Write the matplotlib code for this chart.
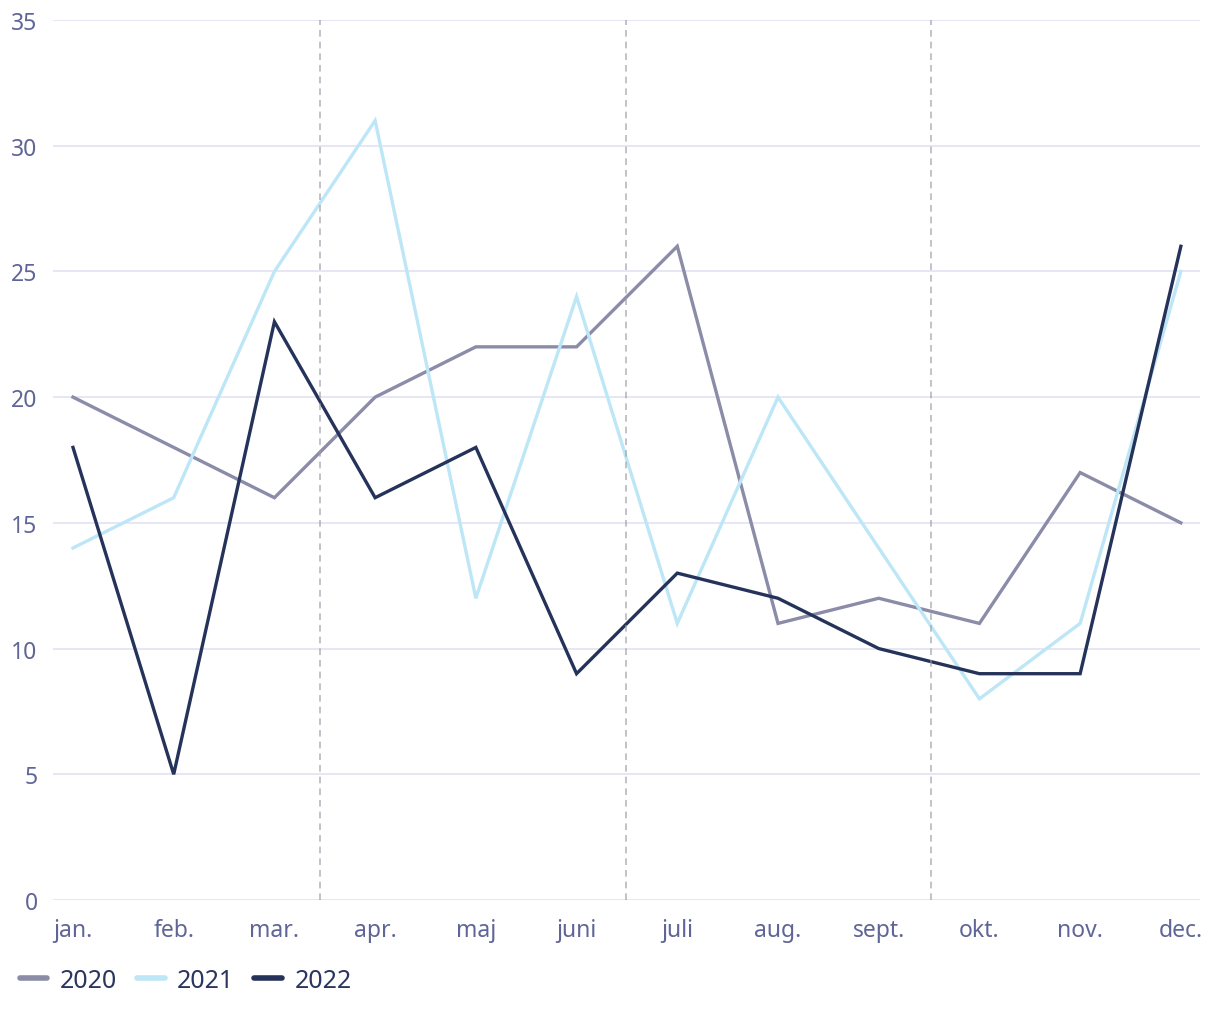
import matplotlib
matplotlib.use("Agg")
import matplotlib.pyplot as plt
from matplotlib.lines import Line2D

months = ["jan.", "feb.", "mar.", "apr.", "maj", "juni", "juli", "aug.", "sept.", "okt.", "nov.", "dec."]
v2020 = [20, 18, 16, 20, 22, 22, 26, 11, 12, 11, 17, 15]
v2021 = [14, 16, 25, 31, 12, 24, 11, 20, 14, 8, 11, 25]
v2022 = [18, 5, 23, 16, 18, 9, 13, 12, 10, 9, 9, 26]
series = [("2020", v2020, "#8a8ca8"), ("2021", v2021, "#bde6f6"), ("2022", v2022, "#25335a")]
quarter_marks = [2.45, 5.49, 8.52]

plt.rcParams['font.family'] = ['Noto Sans', 'DejaVu Sans']

fig = plt.figure(figsize=(12.2, 10.2), dpi=100)
ax = fig.add_axes([0.0434, 0.1167, 0.9402, 0.8627])

x = list(range(len(months)))
for name, vals, col in series:
    ax.plot(x, vals, color=col, lw=2.4, label=name, zorder=3, solid_joinstyle='miter')

for q in quarter_marks:
    ax.axvline(q, color="#9a9aa6", lw=1.2, ls=(0, (4, 3)), alpha=0.7, zorder=4)

ax.set_xlim(-0.199, 11.19)
ax.set_ylim(0, 35)
ax.set_yticks(range(0, 36, 5))
ax.set_xticks(x)
ax.set_xticklabels(months)
ax.grid(axis='y', color="#e2e2f2", lw=1.2, zorder=0)
ax.set_axisbelow(True)
for s in ax.spines.values():
    s.set_visible(False)
ax.tick_params(axis='both', length=0, labelsize=16.5, colors="#5f6596")
ax.tick_params(axis='x', pad=13)
ax.tick_params(axis='y', pad=11)

handles = [Line2D([0], [0], color=c, lw=4, solid_capstyle='round') for _, _, c in series]
leg = fig.legend(handles, [n for n, _, _ in series], loc='lower left', bbox_to_anchor=(0.004, 0.011),
                 ncol=3, frameon=False, fontsize=18, handlelength=1.1, handletextpad=0.5,
                 columnspacing=0.8, borderaxespad=0.2)
for t in leg.get_texts():
    t.set_color("#2a3560")

fig.savefig("out.png", dpi=100)
